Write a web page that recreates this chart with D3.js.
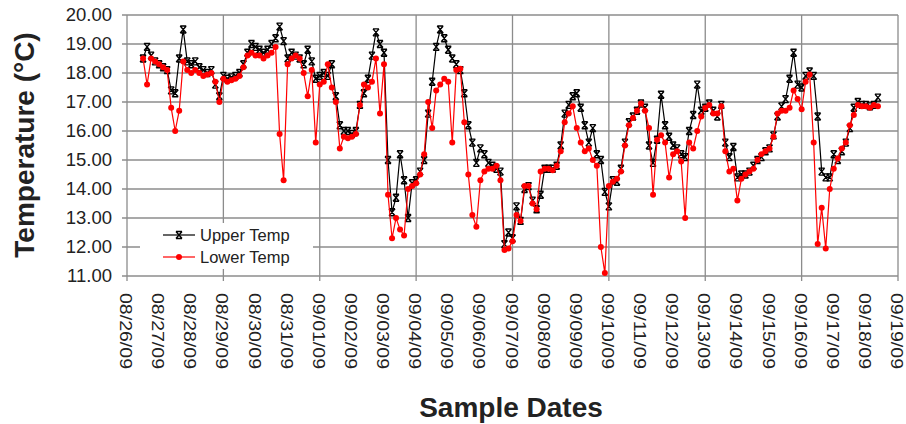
<!DOCTYPE html>
<html>
<head>
<meta charset="utf-8">
<script src="https://cdn.jsdelivr.net/npm/d3@7"></script>
<style>
  body { margin: 0; background: #fff; }
  text { font-family: "Liberation Sans", Arial, sans-serif; fill: #222; }
</style>
</head>
<body>
<div id="chart"></div>
<script>
// sampling: first reading 08/26/09 12:00, one reading every 3 hours
var firstSample = new Date(2009, 7, 26, 12);
var stepHours = 3;

// upper sensor, one row per day
var upperTemp = [
  18.5, 18.9, 18.6, 18.4,
  18.3, 18.2, 18.1, 17.4, 17.3, 18.5, 19.5, 18.4,
  18.3, 18.4, 18.2, 18.1, 18.0, 18.1, 17.6, 17.2,
  17.9, 17.8, 17.85, 17.9, 18.0, 18.3, 18.7, 19.0,
  18.9, 18.8, 18.7, 18.8, 19.0, 19.2, 19.6, 19.1,
  18.5, 18.7, 18.6, 18.5, 18.3, 18.8, 18.4, 17.8,
  17.9, 18.0, 17.9, 18.3, 17.2, 16.2, 16.0, 16.0,
  15.9, 16.0, 16.9, 17.3, 17.8, 18.6, 19.4, 19.0,
  18.7, 15.0, 13.2, 13.7, 15.2, 14.3, 13.0, 14.2,
  14.3, 14.6, 15.0, 16.6, 17.7, 18.9, 19.5, 19.2,
  18.8, 18.5, 18.3, 18.1, 17.3, 16.2, 15.6, 14.9,
  15.4, 15.2, 14.9, 14.8, 14.7, 14.6, 12.1, 12.5,
  12.3, 13.4, 12.9, 14.0, 14.1, 13.6, 13.3, 13.8,
  14.7, 14.7, 14.7, 14.8, 15.5, 16.6, 16.9, 17.2,
  17.3, 16.8, 16.2, 15.6, 16.1, 15.2, 15.0, 13.9,
  13.4, 14.3, 14.25, 14.7, 15.6, 16.3, 16.5, 16.7,
  16.95, 16.8, 15.5, 14.9, 15.7, 17.25, 16.2, 15.8,
  15.5, 15.4, 15.2, 15.1, 16.0, 16.55, 17.6, 16.7,
  16.8, 16.95, 16.7, 16.5, 16.9, 15.6, 15.1, 15.45,
  14.4, 14.5, 14.5, 14.6, 14.8, 15.0, 15.1, 15.3,
  15.4, 15.85, 16.5, 16.85, 17.1, 17.8, 18.7, 17.6,
  17.5, 17.9, 18.05, 17.9, 16.5, 14.6, 14.4, 14.4,
  15.2, 15.0, 15.3, 15.6, 16.1, 16.8, 17.0, 16.9,
  16.9, 16.85, 16.9, 17.15
];

// lower sensor
var lowerTemp = [
  18.5, 17.6, 18.5, 18.4,
  18.3, 18.2, 18.1, 16.8, 16.0, 16.7, 18.4, 18.1,
  18.0, 18.1, 18.0, 17.9, 17.95, 18.0, 17.7, 17.0,
  17.8, 17.7, 17.75, 17.8, 17.9, 18.2, 18.6, 18.7,
  18.6, 18.6, 18.5, 18.6, 18.7, 18.9, 15.9, 14.3,
  18.3, 18.5, 18.6, 18.5, 18.0, 17.2, 18.1, 15.6,
  17.6, 17.7, 18.3, 17.5, 17.0, 15.4, 15.8, 15.75,
  15.8, 15.9, 16.9, 17.6, 17.5, 17.7, 18.5, 16.6,
  18.3, 13.8, 12.3, 13.0, 12.6, 12.4, 14.0, 14.1,
  14.2, 14.5, 15.2, 17.0, 16.1, 17.4, 17.6, 17.8,
  17.7, 15.6, 18.1, 18.15, 16.3, 14.5, 13.1, 12.7,
  14.3, 14.6, 14.7, 14.7, 14.8, 14.3, 11.9, 11.95,
  12.2, 13.1, 12.9, 14.1, 14.1, 13.5, 13.3, 14.6,
  14.7, 14.7, 14.65, 14.8, 15.3, 16.3, 16.6, 16.85,
  16.1, 15.6, 15.3, 15.4, 15.0, 14.8, 12.0, 11.1,
  14.1, 14.25, 14.35, 14.6, 15.5, 16.2, 16.45, 16.7,
  16.95, 16.7, 16.1, 13.8, 15.7, 15.85, 15.6, 14.4,
  15.2, 15.3, 14.95, 13.0, 15.6, 15.4, 16.0, 16.5,
  16.8, 16.9, 16.6, 16.6, 16.85, 15.3, 14.6, 14.7,
  13.6, 14.35, 14.5, 14.6, 14.7, 15.0, 15.2, 15.3,
  15.4, 15.8, 16.6, 16.7, 16.7, 16.8, 17.4, 17.1,
  16.75, 17.7, 17.95, 15.6, 12.1, 13.35, 11.95, 14.0,
  14.7, 15.05, 15.4, 15.6, 16.2, 16.55, 16.9, 16.85,
  16.85, 16.8, 16.9, 16.85
];

var yTicks = [11, 12, 13, 14, 15, 16, 17, 18, 19, 20];
var seriesNames = ["Upper Temp", "Lower Temp"];
var seriesColors = ["#000000", "#ff0000"];

var width = 906, height = 424;
var plotLeft = 127, plotRight = 898, plotTop = 15, plotBottom = 276;

var svg = d3.select("#chart").append("svg")
  .attr("width", width)
  .attr("height", height);

var x = d3.scaleTime()
  .domain([new Date(2009, 7, 26), new Date(2009, 8, 19)])
  .range([plotLeft, plotRight]);
var y = d3.scaleLinear().domain([11, 20]).range([plotBottom, plotTop]);

var days = d3.timeDay.range(new Date(2009, 7, 26), new Date(2009, 8, 20));

// grid
var grid = svg.append("g").attr("stroke", "#8c8c8c").attr("stroke-width", 1.3);
grid.selectAll(".hg").data(yTicks).enter().append("line")
  .attr("x1", plotLeft - 5).attr("x2", plotRight)
  .attr("y1", function(d){ return y(d); }).attr("y2", function(d){ return y(d); });
grid.selectAll(".vg").data(days.filter(function(d, i){ return i % 3 == 0; })).enter().append("line")
  .attr("x1", function(d){ return x(d); }).attr("x2", function(d){ return x(d); })
  .attr("y1", plotTop).attr("y2", plotBottom + 5);

// y labels
svg.append("g").selectAll("text").data(yTicks).enter().append("text")
  .attr("x", 112)
  .attr("y", function(d){ return y(d); })
  .attr("dy", "0.35em")
  .attr("text-anchor", "end")
  .style("font-size", "18.5px")
  .text(d3.format(".2f"));

// x labels, rotated
svg.append("g").selectAll("text").data(days).enter().append("text")
  .attr("transform", function(d){ return "translate(" + (x(d) - 1) + ",293) rotate(90)"; })
  .attr("dominant-baseline", "central")
  .attr("textLength", 76)
  .attr("lengthAdjust", "spacingAndGlyphs")
  .style("font-size", "16.5px")
  .text(d3.timeFormat("%m/%d/%y"));

// series
var series = [upperTemp, lowerTemp].map(function(vals){
  return vals.map(function(v, i){
    return { t: new Date(firstSample.getTime() + i * stepHours * 3600000), v: v };
  });
});

var line = d3.line()
  .x(function(d){ return x(d.t); })
  .y(function(d){ return y(d.v); });

var starPath = "M-3,-3.5H3M-3,3.5H3M-3,-3.5L3,3.5M3,-3.5L-3,3.5";

function marker(g, k){
  if(k == 0)
    g.append("path").attr("d", starPath).attr("stroke", seriesColors[0]).attr("stroke-width", 1.4).attr("fill", "none");
  else
    g.append("circle").attr("r", 3).attr("fill", seriesColors[1]);
}

series.forEach(function(data, k){
  var g = svg.append("g");
  g.append("path")
    .datum(data)
    .attr("d", line)
    .attr("fill", "none")
    .attr("stroke", seriesColors[k])
    .attr("stroke-width", 1.2);
  g.selectAll("g").data(data).enter().append("g")
    .attr("transform", function(d){ return "translate(" + x(d.t) + "," + y(d.v) + ")"; })
    .each(function(){ marker(d3.select(this), k); });
});

// legend
var legend = svg.append("g");
legend.append("rect")
  .attr("x", 140).attr("y", 223).attr("width", 173).attr("height", 46)
  .attr("fill", "#fff");
seriesNames.forEach(function(name, k){
  var ly = 235 + k * 22;
  legend.append("line")
    .attr("x1", 163).attr("x2", 195).attr("y1", ly).attr("y2", ly)
    .attr("stroke", seriesColors[k]).attr("stroke-width", 1.2);
  marker(legend.append("g").attr("transform", "translate(179," + ly + ")"), k);
  legend.append("text")
    .attr("x", 200).attr("y", ly).attr("dy", "0.35em")
    .style("font-size", "16.5px")
    .text(name);
});

// titles
svg.append("text")
  .attr("transform", "translate(24,145) rotate(-90)")
  .attr("text-anchor", "middle")
  .attr("dominant-baseline", "central")
  .style("font-size", "28px")
  .style("font-weight", "bold")
  .text("Temperature (°C)");

svg.append("text")
  .attr("x", 511).attr("y", 417)
  .attr("text-anchor", "middle")
  .style("font-size", "28px")
  .style("font-weight", "bold")
  .text("Sample Dates");
</script>
</body>
</html>
